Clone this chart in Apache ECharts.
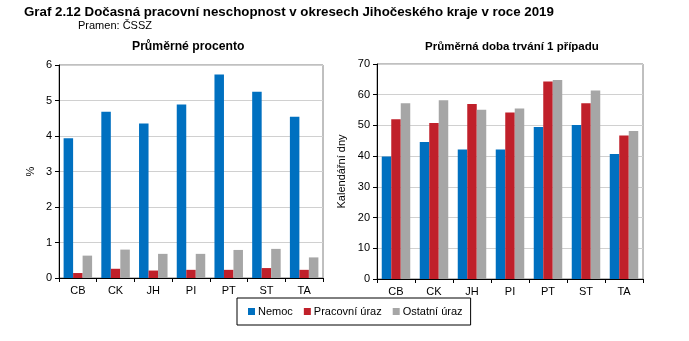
<!DOCTYPE html>
<html>
<head>
<meta charset="utf-8">
<script src="https://cdn.jsdelivr.net/npm/echarts@6/dist/echarts.min.js"></script>
<style>
  html, body { margin: 0; padding: 0; background: #fff; }
  #chart { width: 689px; height: 341px; }
</style>
</head>
<body>
<div id="chart"></div>
<script>
// Districts of the South Bohemian Region
const districts = ['CB', 'CK', 'JH', 'PI', 'PT', 'ST', 'TA'];
const seriesNames = ['Nemoc', 'Pracovní úraz', 'Ostatní úraz'];

// Average percentage of temporary incapacity for work
const pctNemoc = [3.94, 4.68, 4.35, 4.89, 5.73, 5.25, 4.54];
const pctPracovni = [0.14, 0.26, 0.21, 0.23, 0.23, 0.28, 0.23];
const pctOstatni = [0.63, 0.80, 0.68, 0.68, 0.79, 0.82, 0.58];

// Average duration of one case (calendar days)
const daysNemoc = [39.9, 44.6, 42.2, 42.2, 49.5, 50.1, 40.7];
const daysPracovni = [52.0, 50.8, 57.0, 54.2, 64.3, 57.2, 46.7];
const daysOstatni = [57.2, 58.2, 55.1, 55.5, 64.8, 61.4, 48.2];

const colors = ['#0070C0', '#C0202A', '#A6A6A6'];
const FONT = '"Liberation Sans", Arial, sans-serif';

const chart = echarts.init(document.getElementById('chart'), null, { renderer: 'canvas' });

function xAxis(gridIndex) {
  return {
    type: 'category', gridIndex, data: districts,
    axisLine: { lineStyle: { color: '#000', width: 1 } },
    axisTick: { show: true, length: 4, lineStyle: { color: '#000' } },
    axisLabel: { color: '#000', fontFamily: FONT, fontSize: 11, margin: 7 }
  };
}
function yAxis(gridIndex, max, interval, name) {
  return {
    type: 'value', gridIndex, min: 0, max, interval,
    name, nameLocation: 'middle', nameGap: gridIndex === 0 ? 23 : 30,
    nameTextStyle: { color: '#000', fontFamily: FONT, fontSize: 11 },
    axisLine: { show: true, lineStyle: { color: '#000', width: 1 } },
    axisTick: { show: true, length: 4, lineStyle: { color: '#000' } },
    axisLabel: { color: '#000', fontFamily: FONT, fontSize: 11, margin: 7 },
    splitLine: { show: true, lineStyle: { color: '#d0d0d0', width: 1 } }
  };
}
function bars(name, data, color, idx) {
  return {
    name, type: 'bar', xAxisIndex: idx, yAxisIndex: idx, data,
    barWidth: 9.5, barGap: '0%',
    itemStyle: { color },
    emphasis: { disabled: true },
    animation: false
  };
}

chart.setOption({
  animation: false,
  textStyle: { fontFamily: FONT },
  title: [
    { text: 'Graf 2.12 Dočasná pracovní neschopnost v okresech Jihočeského kraje v roce 2019',
      left: 24, top: 6, padding: 0,
      textStyle: { fontFamily: FONT, fontSize: 13.3, fontWeight: 'bold', color: '#000' } },
    { text: 'Pramen: ČSSZ', left: 78, top: 20, padding: 0,
      textStyle: { fontFamily: FONT, fontSize: 11, fontWeight: 'normal', color: '#000' } },
    { text: 'Průměrné procento', left: 132, top: 41, padding: 0,
      textStyle: { fontFamily: FONT, fontSize: 12.2, fontWeight: 'bold', color: '#000' } },
    { text: 'Průměrná doba trvání 1 případu', left: 425, top: 41, padding: 0,
      textStyle: { fontFamily: FONT, fontSize: 11.5, fontWeight: 'bold', color: '#000' } }
  ],
  legend: {
    data: seriesNames,
    left: 237, top: 298,
    padding: [8, 8, 8, 11],
    borderColor: '#000', borderWidth: 1,
    itemWidth: 7, itemHeight: 7, itemGap: 11,
    icon: 'rect',
    textStyle: { fontFamily: FONT, fontSize: 11, color: '#000', padding: [0, 0, 0, -2] }
  },
  grid: [
    { left: 59, right: 366, top: 65, bottom: 63, show: true, borderColor: '#808080', borderWidth: 1 },
    { left: 377, right: 46, top: 64, bottom: 62, show: true, borderColor: '#808080', borderWidth: 1 }
  ],
  xAxis: [xAxis(0), xAxis(1)],
  yAxis: [yAxis(0, 6, 1, '%'), yAxis(1, 70, 10, 'Kalendářní dny')],
  series: [
    bars(seriesNames[0], pctNemoc, colors[0], 0),
    bars(seriesNames[1], pctPracovni, colors[1], 0),
    bars(seriesNames[2], pctOstatni, colors[2], 0),
    bars(seriesNames[0], daysNemoc, colors[0], 1),
    bars(seriesNames[1], daysPracovni, colors[1], 1),
    bars(seriesNames[2], daysOstatni, colors[2], 1)
  ]
});
</script>
</body>
</html>
